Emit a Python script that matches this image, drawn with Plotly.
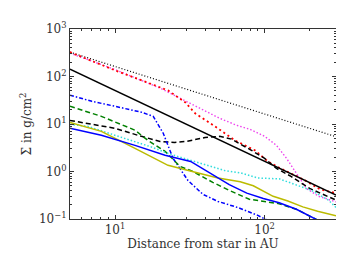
import plotly.graph_objects as go

# ---- data ----
x_ref = [5, 300]
y_black_dot = [325, 5.4]
y_black_solid = [143, 0.32]

x_red = [5, 10, 22.6, 29.4, 34.3, 46.6, 63.4, 86, 105, 128, 186, 235, 300]
y_red = [325, 135, 51, 28.7, 16.8, 8.9, 4.5, 2.8, 1.63, 1.16, 0.65, 0.42, 0.35]

x_mag = [5, 10, 20, 30, 40, 50, 65, 80, 100, 120, 140, 160, 190, 230, 300]
y_mag = [310, 140, 57, 30, 19.5, 13.2, 9.4, 7.7, 5.5, 3.55, 1.9, 1.0, 0.44, 0.30, 0.23]

x_bdash = [5, 8, 10, 15, 20, 25, 30, 40, 50, 60, 70, 80, 100, 120, 150, 200, 300]
y_bdash = [11.9, 9.4, 8.1, 5.5, 4.3, 4.1, 4.3, 5.2, 5.5, 4.8, 3.7, 2.9, 1.89, 1.16, 0.79, 0.44, 0.25]

x_bdd = [5, 7, 10, 15, 18, 21, 24.4, 30.7, 38.7, 48.8, 66, 90, 109]
y_bdd = [40.5, 30, 23.6, 17.7, 14.5, 6.4, 1.9, 0.65, 0.33, 0.234, 0.175, 0.119, 0.088]

x_green = [5, 8.1, 13.6, 16.6, 21.6, 27.2, 33.2, 45, 58, 79, 125, 163, 206, 233]
y_green = [23.6, 14.5, 7.4, 4.5, 2.66, 1.28, 1.0, 0.59, 0.40, 0.26, 0.21, 0.16, 0.11, 0.09]

x_blue = [5, 8.1, 13.6, 21.6, 32, 37.5, 45, 58, 76, 98, 125, 163, 223]
y_blue = [8.1, 5.8, 3.55, 2.19, 1.63, 1.22, 0.87, 0.53, 0.35, 0.27, 0.22, 0.16, 0.097]

x_yel = [5, 8.1, 13.6, 22.6, 35.9, 48.8, 68.7, 84, 114, 143, 180, 226, 300]
y_yel = [10.8, 7.0, 3.07, 1.35, 0.93, 0.73, 0.61, 0.50, 0.30, 0.24, 0.18, 0.145, 0.117]

x_cyan = [5, 6.6, 10.5, 17.4, 22.6, 29.3, 41.8, 53.9, 69.5, 90, 125, 163, 206, 267, 300]
y_cyan = [9.8, 8.9, 5.5, 3.3, 2.4, 1.89, 1.35, 1.05, 0.93, 0.73, 0.70, 0.53, 0.40, 0.25, 0.175]

x_tickvals = [10, 100]
x_ticktext = ["10<sup>1</sup>", "10<sup>2</sup>"]
y_tickvals = [0.1, 1, 10, 100, 1000]
y_ticktext = ["10<sup>−1</sup>", "10<sup>0</sup>", "10<sup>1</sup>",
              "10<sup>2</sup>", "10<sup>3</sup>"]

series = [
    (x_ref, y_black_dot, "black", "1px,2px", 1.2),
    (x_mag, y_mag, "#ee44ee", "1.5px,2px", 1.4),
    (x_red, y_red, "red", "2px,3px", 1.8),
    (x_ref, y_black_solid, "black", "solid", 1.5),
    (x_bdash, y_bdash, "black", "5px,3px", 1.5),
    (x_bdd, y_bdd, "blue", "4px,2px,1.5px,2px", 1.5),
    (x_green, y_green, "green", "5px,3px", 1.5),
    (x_cyan, y_cyan, "#33dddd", "1.5px,2px", 1.5),
    (x_yel, y_yel, "#bbbb00", "solid", 1.5),
    (x_blue, y_blue, "blue", "solid", 1.5),
]

fig = go.Figure()
for xs, ys, c, d, w in series:
    fig.add_trace(go.Scatter(x=xs, y=ys, mode="lines",
                             line=dict(color=c, dash=d, width=w),
                             showlegend=False, hoverinfo="skip"))

font = dict(family="DejaVu Serif", size=12, color="#333")
axis_common = dict(type="log", showgrid=False, zeroline=False,
                   showline=True, linecolor="#333", linewidth=1,
                   mirror="ticks", ticks="inside", ticklen=4, tickcolor="#333",
                   tickfont=font,
                   minor=dict(ticks="inside", ticklen=2, tickcolor="#333",
                              dtick="D1", showgrid=False))
fig.update_xaxes(**axis_common, range=[0.699, 2.477],
                 tickvals=x_tickvals, ticktext=x_ticktext,
                 title=dict(text="Distance from star in AU", font=font, standoff=2))
fig.update_yaxes(**axis_common, range=[-1, 3],
                 tickvals=y_tickvals, ticktext=y_ticktext,
                 title=dict(text="Σ in g/cm<sup>2</sup>", font=font, standoff=4))
fig.update_layout(width=344, height=258,
                  margin=dict(l=62, r=16, t=21, b=47),
                  plot_bgcolor="white", paper_bgcolor="white", font=font)
fig.write_html("out.html")
